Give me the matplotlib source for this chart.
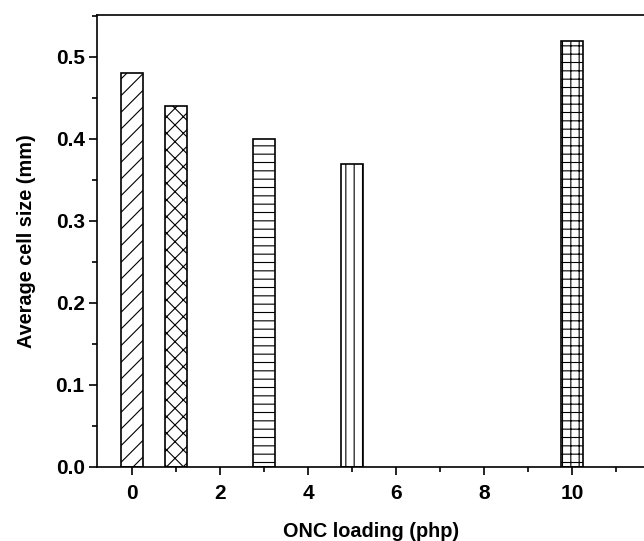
import matplotlib.pyplot as plt
from matplotlib.ticker import MultipleLocator

plt.rcParams['font.family'] = ['Liberation Sans', 'DejaVu Sans']
plt.rcParams['hatch.linewidth'] = 0.8

# data
loading = [0, 1, 3, 5, 10]
cell_size = [0.48, 0.44, 0.40, 0.37, 0.52]
hatches = ['//', 'xx', '--', '||', '++']

fig = plt.figure(figsize=(6.44, 5.41), dpi=100)
ax = fig.add_axes([0.151, 0.137, 0.849, 0.835])

for x, y, h in zip(loading, cell_size, hatches):
    ax.bar(x, y, width=0.5, facecolor='white', edgecolor='black',
           linewidth=1.2, hatch=h)

ax.set_xlim(-0.79, 11.64)
ax.set_ylim(0, 0.551)
ax.xaxis.set_major_locator(MultipleLocator(2))
ax.xaxis.set_minor_locator(MultipleLocator(1))
ax.yaxis.set_major_locator(MultipleLocator(0.1))
ax.yaxis.set_minor_locator(MultipleLocator(0.05))
ax.yaxis.set_major_formatter(plt.FormatStrFormatter('%.1f'))

ax.spines['right'].set_visible(False)
for s in ['left', 'bottom', 'top']:
    ax.spines[s].set_linewidth(1.2)

ax.tick_params(which='major', direction='out', length=6, width=1.2,
               labelsize=15)
ax.tick_params(axis='x', which='major', pad=6)
ax.tick_params(axis='y', which='major', pad=3)
ax.tick_params(which='minor', direction='out', length=3.5, width=1.2)
for lab in ax.get_xticklabels() + ax.get_yticklabels():
    lab.set_fontweight('bold')

ax.set_xlabel('ONC loading (php)', fontsize=14.3, fontweight='bold', labelpad=14)
ax.set_ylabel('Average cell size (mm)', fontsize=14.3, fontweight='bold', labelpad=14)

fig.savefig('out.png', dpi=100)
